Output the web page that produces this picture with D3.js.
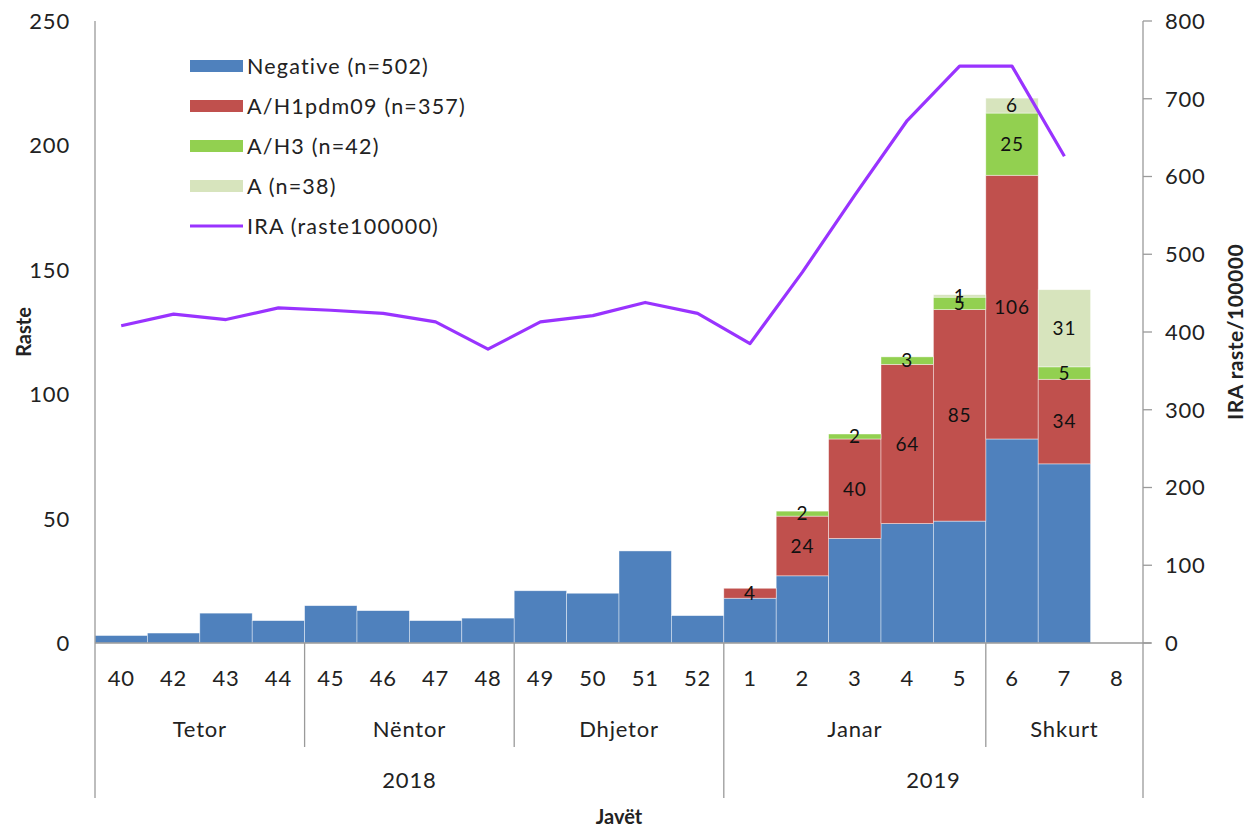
<!DOCTYPE html>
<html><head><meta charset="utf-8">
<script src="https://cdn.jsdelivr.net/npm/d3@7"></script>
<style>body{margin:0;background:#fff}svg{display:block}text{font-family:Lato,"Open Sans",sans-serif;fill:#222}</style>
</head><body><svg id="c" width="1250" height="828"></svg>
<script>
const weeks = ["40","42","43","44","45","46","47","48","49","50","51","52","1","2","3","4","5","6","7","8"];
const negative = [3,4,12,9,15,13,9,10,21,20,37,11,18,27,42,48,49,82,72,0];
const h1pdm09 = [0,0,0,0,0,0,0,0,0,0,0,0,4,24,40,64,85,106,34,0];
const h3 = [0,0,0,0,0,0,0,0,0,0,0,0,0,2,2,3,5,25,5,0];
const aUnsub = [0,0,0,0,0,0,0,0,0,0,0,0,0,0,0,0,1,6,31,0];
const ira = [408,423,416,431,428,424,413,378,413,421,438,424,385,477,576,672,742,742,626,null];
const months = [{name:"Tetor",from:0,to:4},{name:"Nëntor",from:4,to:8},{name:"Dhjetor",from:8,to:12},{name:"Janar",from:12,to:17},{name:"Shkurt",from:17,to:20}];
const years = [{name:"2018",from:0,to:12},{name:"2019",from:12,to:20}];
const seriesNames = ["Negative (n=502)","A/H1pdm09 (n=357)","A/H3 (n=42)","A (n=38)"];
const lineName = "IRA (raste100000)";
const leftTicks = [0,50,100,150,200,250];
const rightTicks = [0,100,200,300,400,500,600,700,800];

const colors = ["#4F81BD","#C0504D","#92D050","#D7E4BD"];
const lineColor = "#9933FF";
const axisColor = "#9a9a9a";

const svg = d3.select("#c");
const L=95, R=1143, T=21, B=643;
const x = d3.scaleBand().domain(d3.range(weeks.length)).range([L,R]).padding(0);
const y = d3.scaleLinear().domain([0,250]).range([B,T]);
const y2 = d3.scaleLinear().domain([0,800]).range([B,T]);

const rows = weeks.map((w,i)=>({i, s0:negative[i], s1:h1pdm09[i], s2:h3[i], s3:aUnsub[i]}));
const stack = d3.stack().keys(["s0","s1","s2","s3"])(rows);

stack.forEach((layer,k)=>{
  svg.append("g").selectAll("rect").data(layer.filter(d=>d[1]>d[0])).join("rect")
    .attr("x",d=>x(d.data.i)).attr("width",x.bandwidth())
    .attr("y",d=>y(d[1])).attr("height",d=>y(d[0])-y(d[1]))
    .attr("fill",colors[k]).attr("stroke","#ffffff").attr("stroke-opacity",0.6).attr("stroke-width",0.7);
});
stack.forEach((layer,k)=>{
  if(k===0) return;
  svg.append("g").selectAll("text").data(layer.filter(d=>d[1]>d[0])).join("text")
    .attr("x",d=>x(d.data.i)+x.bandwidth()/2)
    .attr("y",d=>y((d[0]+d[1])/2))
    .attr("dy","0.36em").attr("text-anchor","middle")
    .style("font-size","19px").style("letter-spacing","0.8px").style("fill","#111")
    .text(d=>d[1]-d[0]);
});

const line = d3.line().defined(d=>d!=null).x((d,i)=>x(i)+x.bandwidth()/2).y(d=>y2(d));
svg.append("path").datum(ira).attr("d",line).attr("fill","none")
  .attr("stroke",lineColor).attr("stroke-width",3.2).attr("stroke-linejoin","round");

const gAx = svg.append("g").attr("stroke",axisColor).attr("stroke-width",1.3);
gAx.append("line").attr("x1",L).attr("x2",L).attr("y1",T).attr("y2",798);
gAx.append("line").attr("x1",R).attr("x2",R).attr("y1",T).attr("y2",798);
gAx.append("line").attr("x1",L).attr("x2",R+8).attr("y1",B).attr("y2",B);
rightTicks.forEach(t=>gAx.append("line").attr("x1",R).attr("x2",R+9).attr("y1",y2(t)).attr("y2",y2(t)));
months.forEach(m=>{ if(m.from>0 && !years.some(yy=>yy.from===m.from)) gAx.append("line").attr("x1",x(m.from)).attr("x2",x(m.from)).attr("y1",B).attr("y2",747); });
years.forEach(yy=>{ if(yy.from>0) gAx.append("line").attr("x1",x(yy.from)).attr("x2",x(yy.from)).attr("y1",B).attr("y2",798); });

const axFont = "22px", axLS = "0.8px";
svg.append("g").selectAll("text").data(leftTicks).join("text")
  .attr("x",70).attr("y",d=>y(d)).attr("dy","0.36em").attr("text-anchor","end")
  .style("font-size",axFont).style("letter-spacing",axLS).text(d=>d);
svg.append("g").selectAll("text").data(rightTicks).join("text")
  .attr("x",1165).attr("y",d=>y2(d)).attr("dy","0.36em").attr("text-anchor","start")
  .style("font-size",axFont).style("letter-spacing",axLS).text(d=>d);

svg.append("g").selectAll("text").data(weeks).join("text")
  .attr("x",(d,i)=>x(i)+x.bandwidth()/2).attr("y",678).attr("dy","0.36em").attr("text-anchor","middle")
  .style("font-size",axFont).style("letter-spacing",axLS).text(d=>d);
svg.append("g").selectAll("text").data(months).join("text")
  .attr("x",d=>(x(d.from)+(d.to<weeks.length?x(d.to):R))/2).attr("y",729).attr("dy","0.36em").attr("text-anchor","middle")
  .style("font-size",axFont).style("letter-spacing",axLS).text(d=>d.name);
svg.append("g").selectAll("text").data(years).join("text")
  .attr("x",d=>(x(d.from)+(d.to<weeks.length?x(d.to):R))/2).attr("y",780).attr("dy","0.36em").attr("text-anchor","middle")
  .style("font-size",axFont).style("letter-spacing",axLS).text(d=>d.name);

svg.append("text").attr("x",(L+R)/2).attr("y",817).attr("dy","0.36em").attr("text-anchor","middle")
  .style("font-size","20px").style("font-weight","bold").text("Javët");
svg.append("text").attr("transform","translate(24,332) rotate(-90)").attr("dy","0.36em").attr("text-anchor","middle")
  .style("font-size","20px").style("font-weight","bold").text("Raste");
svg.append("text").attr("transform","translate(1235,332) rotate(-90)").attr("dy","0.36em").attr("text-anchor","middle")
  .style("font-size","21px").style("font-weight","bold").style("letter-spacing","0.5px").text("IRA raste/100000");

const lg = svg.append("g");
seriesNames.forEach((n,k)=>{
  const yy = 66 + k*40;
  lg.append("rect").attr("x",190).attr("y",yy-6).attr("width",53).attr("height",12).attr("fill",colors[k]);
  lg.append("text").attr("x",247).attr("y",yy).attr("dy","0.36em").style("font-size","21.5px").style("letter-spacing","1.2px").text(n);
});
const ly = 66 + 4*40;
lg.append("line").attr("x1",190).attr("x2",243).attr("y1",ly).attr("y2",ly).attr("stroke",lineColor).attr("stroke-width",3.2);
lg.append("text").attr("x",247).attr("y",ly).attr("dy","0.36em").style("font-size","21.5px").style("letter-spacing","1.2px").text(lineName);
</script></body></html>
